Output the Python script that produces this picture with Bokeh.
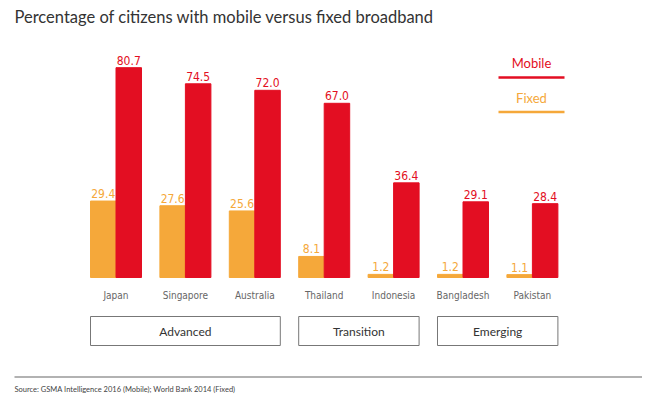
from bokeh.plotting import figure
from bokeh.models import Range1d, ColumnDataSource
from bokeh.core.properties import value
from bokeh.embed import file_html
from bokeh.resources import INLINE

countries = ["Japan", "Singapore", "Australia", "Thailand", "Indonesia", "Bangladesh", "Pakistan"]
mobile = [80.7, 74.5, 72.0, 67.0, 36.4, 29.1, 28.4]
fixed = [29.4, 27.6, 25.6, 8.1, 1.2, 1.2, 1.1]
groups = ["Advanced", "Transition", "Emerging"]
group_first = [0, 3, 5]
group_last = [2, 4, 6]

RED = "#E30E22"
ORANGE = "#F5A83A"

W, H = 642, 398
ORIGIN = 0
# page-pixel geometry
PX_PER_CAT = 69.4
PX_PER_UNIT = 2.6
BASE_PY = 277
FIRST_CENTER_PX = 115.5

x0 = -(FIRST_CENTER_PX - ORIGIN) / PX_PER_CAT
x1 = x0 + W / PX_PER_CAT
y1 = (BASE_PY - ORIGIN) / PX_PER_UNIT
y0 = y1 - H / PX_PER_UNIT


def dx(px):
    return x0 + (px - ORIGIN) / PX_PER_CAT


def dy(py):
    return (BASE_PY - py) / PX_PER_UNIT


p = figure(width=W, height=H, output_backend="svg", toolbar_location=None,
           x_range=Range1d(x0, x1), y_range=Range1d(y0, y1), min_border=0)
p.axis.visible = False
p.grid.visible = False
p.outline_line_color = None
p.background_fill_color = "white"

idx = list(range(len(countries)))
bw = 25.5 / PX_PER_CAT
src = ColumnDataSource(dict(
    x=idx, country=countries, mobile=mobile, fixed=fixed,
    xf=[i - bw / 2 for i in idx], xm=[i + bw / 2 for i in idx],
    lf=[f"{v:.1f}" for v in fixed], lm=[f"{v:.1f}" for v in mobile],
))

p.vbar(x="xf", top="fixed", bottom=0, width=bw, source=src,
       fill_color=ORANGE, line_color=ORANGE)
p.vbar(x="xm", top="mobile", bottom=0, width=bw, source=src,
       fill_color=RED, line_color=RED)

num_font = value("'DejaVu Sans Condensed', 'Liberation Sans Narrow', Roboto, sans-serif")
p.text(x="xf", y="fixed", text="lf", source=src, text_align="center",
       text_baseline="bottom", y_offset=-3, text_font=num_font,
       text_font_size="12px", text_color=ORANGE)
p.text(x="xm", y="mobile", text="lm", source=src, text_align="center",
       text_baseline="bottom", y_offset=-3, text_font=num_font,
       text_font_size="12px", text_color=RED)

p.text(x="x", y=dy(295), text="country", source=src, text_align="center",
       text_baseline="middle", text_font=num_font, text_font_size="10px",
       text_color="#666666")

# group boxes
gsrc = ColumnDataSource(dict(
    left=[group_first[k] - bw for k in range(3)],
    right=[group_last[k] + bw for k in range(3)],
    name=groups,
))
gsrc.data["mid"] = [(l + r) / 2 for l, r in zip(gsrc.data["left"], gsrc.data["right"])]
p.quad(left="left", right="right", top=dy(316), bottom=dy(345), source=gsrc,
       fill_color=None, line_color="#777777", line_width=1)
p.text(x="mid", y=dy(331), text="name", source=gsrc, text_align="center",
       text_baseline="middle", text_font=value("Lato"), text_font_size="12px",
       text_color="#333333")

# legend
p.segment(x0=dx(498), x1=dx(564), y0=dy(77), y1=dy(77), line_color=RED, line_width=2.5)
p.segment(x0=dx(498), x1=dx(564), y0=dy(111.5), y1=dy(111.5), line_color=ORANGE, line_width=2.5)
p.text(x=[dx(531)], y=[dy(62)], text=["Mobile"], text_align="center", text_baseline="middle",
       text_font=value("Lato"), text_font_size="13px", text_color=RED)
p.text(x=[dx(531)], y=[dy(97)], text=["Fixed"], text_align="center", text_baseline="middle",
       text_font=value("Lato"), text_font_size="13px", text_color=ORANGE)

# title
p.text(x=[dx(14)], y=[dy(16)], text=["Percentage of citizens with mobile versus fixed broadband"],
       text_align="left", text_baseline="middle", text_font=value("Lato"),
       text_font_size="16.5px", text_color="#333333")

# source rule and text
p.segment(x0=dx(14), x1=dx(650), y0=dy(376.5), y1=dy(376.5), line_color="#999999", line_width=1.5)
p.text(x=[dx(14)], y=[dy(389)], text=["Source: GSMA Intelligence 2016 (Mobile); World Bank 2014 (Fixed)"],
       text_align="left", text_baseline="middle", text_font=value("Lato"),
       text_font_size="7.5px", text_color="#444444")

open("out.html", "w").write(file_html(p, INLINE))
